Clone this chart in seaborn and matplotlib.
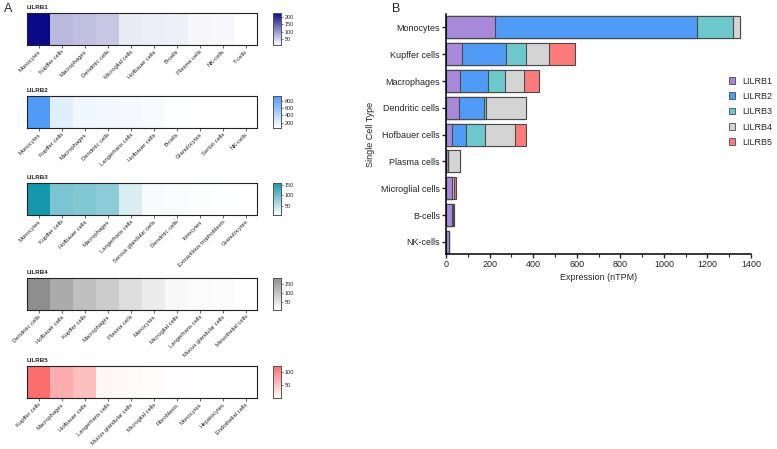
import numpy as np
import pandas as pd
import matplotlib
matplotlib.use("Agg")
import matplotlib.pyplot as plt
import seaborn as sns
from matplotlib.colors import LinearSegmentedColormap
from matplotlib.patches import Patch
from matplotlib.ticker import MultipleLocator

sns.set_style("white")
plt.rcParams["font.family"] = ["Liberation Sans", "DejaVu Sans"]

# ---- panel A: per-gene heatmaps (nTPM) ----
lilrb1_cells = ["Monocytes", "Kupffer cells", "Macrophages", "Dendritic cells", "Microglial cells",
                "Hofbauer cells", "B-cells", "Plasma cells", "NK-cells", "T-cells"]
lilrb1_vals = [225, 72, 66, 58, 28, 26, 25, 18, 16, 10]

lilrb2_cells = ["Monocytes", "Kupffer cells", "Macrophages", "Dendritic cells", "Langerhans cells",
                "Hofbauer cells", "B-cells", "Granulocytes", "Sertoli cells", "NK-cells"]
lilrb2_vals = [926, 202, 128, 115, 104, 92, 56, 55, 54, 52]

lilrb3_cells = ["Monocytes", "Kupffer cells", "Hofbauer cells", "Macrophages", "Langerhans cells",
                "Serous glandular cells", "Dendritic cells", "Ionocytes", "Extravillous trophoblasts",
                "Granulocytes"]
lilrb3_vals = [160, 92, 87, 80, 30, 10, 9, 6, 5, 4]

lilrb4_cells = ["Dendritic cells", "Hofbauer cells", "Kupffer cells", "Macrophages", "Plasma cells",
                "Monocytes", "Microglial cells", "Langerhans cells", "Mucus glandular cells",
                "Mesothelial cells"]
lilrb4_vals = [186, 138, 105, 85, 55, 32, 12, 8, 6, 1]

lilrb5_cells = ["Kupffer cells", "Macrophages", "Hofbauer cells", "Langerhans cells",
                "Mucus glandular cells", "Microglial cells", "Fibroblasts", "Monocytes",
                "Hepatocytes", "Endothelial cells"]
lilrb5_vals = [121, 69, 54, 8, 6, 4, 3, 2, 2, 1]

# ---- panel B: stacked expression per cell type ----
cell_types = ["Monocytes", "Kupffer cells", "Macrophages", "Dendritic cells", "Hofbauer cells",
              "Plasma cells", "Microglial cells", "B-cells", "NK-cells"]
b1 = [225, 72, 66, 58, 26, 8, 28, 26, 14]
b2 = [926, 202, 125, 115, 64, 0, 0, 6, 0]
b3 = [165, 92, 80, 9, 87, 0, 0, 0, 0]
b4 = [32, 105, 85, 185, 138, 55, 11, 3, 2]
b5 = [0, 121, 69, 0, 54, 0, 5, 0, 0]

genes = ["LILRB1", "LILRB2", "LILRB3", "LILRB4", "LILRB5"]
bar_colors = ["#a788d9", "#4f9bf5", "#6dc8cb", "#d4d4d4", "#fb7b7b"]
heat_colors = ["#0a0a88", "#4f9bf5", "#1597ad", "#8e8e8e", "#fc6e6e"]

W, H = 777, 449
fig = plt.figure(figsize=(W / 100, H / 100), dpi=100)


def px_axes(left, top, width, height):
    return fig.add_axes([left / W, 1 - (top + height) / H, width / W, height / H])


heat_sets = [
    (lilrb1_cells, lilrb1_vals, [50, 100, 150, 200], 13),
    (lilrb2_cells, lilrb2_vals, [200, 400, 600, 800], 96),
    (lilrb3_cells, lilrb3_vals, [50, 100, 150], 183),
    (lilrb4_cells, lilrb4_vals, [50, 100, 150], 278),
    (lilrb5_cells, lilrb5_vals, [50, 100], 366),
]

for gene, color, (cells, vals, cticks, top) in zip(genes, heat_colors, heat_sets):
    ax = px_axes(27, top, 230, 32)
    cax = px_axes(273, top, 8, 32)
    cmap = LinearSegmentedColormap.from_list(gene, ["white", color])
    sns.heatmap(np.array(vals)[None, :], cmap=cmap, vmin=min(vals), vmax=max(vals),
                ax=ax, cbar_ax=cax, xticklabels=cells, yticklabels=False,
                cbar_kws={"ticks": cticks})
    for s in ax.spines.values():
        s.set_visible(True)
        s.set_linewidth(0.8)
        s.set_color("#222222")
    ax.tick_params(axis="x", bottom=True, length=2, width=0.5, pad=1, labelsize=4.2)
    plt.setp(ax.get_xticklabels(), rotation=45, ha="right", rotation_mode="anchor")
    ax.set_title(gene, loc="left", fontsize=4.5, fontweight="bold", pad=3)
    cax.tick_params(labelsize=4, length=1.5, width=0.4, pad=1)
    for s in cax.spines.values():
        s.set_visible(True)
        s.set_linewidth(0.6)
        s.set_color("#555555")

# ---- panel B ----
axb = px_axes(446, 14, 305, 240)
df = pd.DataFrame({"cell": cell_types, "LILRB1": b1, "LILRB2": b2, "LILRB3": b3,
                   "LILRB4": b4, "LILRB5": b5})
cum = df[genes].cumsum(axis=1)
# stack by drawing cumulative totals from the outermost segment inwards
for gene, color in reversed(list(zip(genes, bar_colors))):
    sns.barplot(x=cum[gene], y=df["cell"], orient="h", color=color, saturation=1,
                width=0.82, edgecolor="#4a4a4a", linewidth=0.8, ax=axb)

axb.set_xlim(0, 1400)
axb.set_ylim(8.45, -0.5)
axb.xaxis.set_major_locator(MultipleLocator(200))
axb.xaxis.set_minor_locator(MultipleLocator(100))
axb.tick_params(axis="both", which="major", direction="out", length=3, width=1,
                labelsize=6.5, bottom=True, left=True, pad=1.5)
axb.tick_params(axis="x", which="minor", direction="out", length=2, width=0.8, bottom=True)
for side in ["top", "right"]:
    axb.spines[side].set_visible(False)
for side in ["left", "bottom"]:
    axb.spines[side].set_linewidth(1.1)
    axb.spines[side].set_color("black")
axb.set_xlabel("Expression (nTPM)", fontsize=6.5, labelpad=3)
axb.set_ylabel("Single Cell Type", fontsize=6.5, labelpad=4)

handles = [Patch(facecolor=c, edgecolor="#4a4a4a", linewidth=0.6, label=g)
           for g, c in zip(genes, bar_colors)]
fig.legend(handles=handles, loc="upper left", bbox_to_anchor=(725 / W, 1 - 73 / H),
           frameon=False, fontsize=6.5, handlelength=0.75, handleheight=0.75,
           handletextpad=0.8, labelspacing=0.7, borderaxespad=0)

fig.text(4 / W, 1 - 12 / H, "A", fontsize=9)
fig.text(392 / W, 1 - 12 / H, "B", fontsize=9)

fig.savefig("out.png", dpi=100)
